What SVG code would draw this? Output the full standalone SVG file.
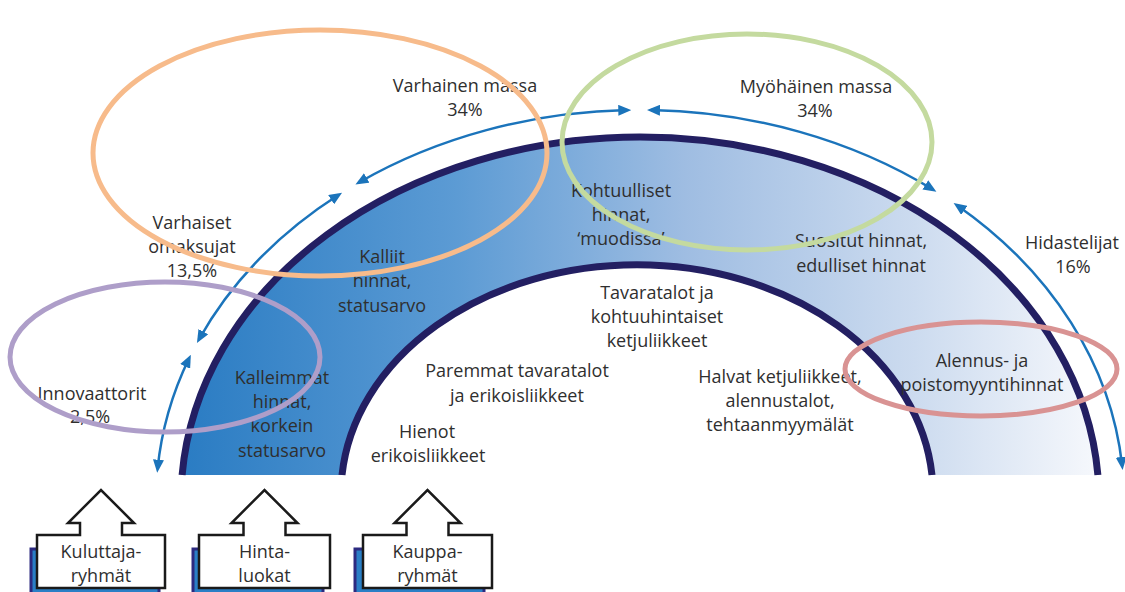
<svg xmlns="http://www.w3.org/2000/svg" width="1125" height="592" viewBox="0 0 1125 592">
  <defs>
    <linearGradient id="bandFill" x1="182" y1="0" x2="1098" y2="0" gradientUnits="userSpaceOnUse">
      <stop offset="0" stop-color="#2a7cc3"/>
      <stop offset="0.3" stop-color="#5c9bd4"/>
      <stop offset="0.55" stop-color="#9fbde2"/>
      <stop offset="0.8" stop-color="#ccdbef"/>
      <stop offset="1" stop-color="#f6f8fc"/>
    </linearGradient>
    <marker id="head" viewBox="0 0 13 11" refX="9" refY="5.5" markerWidth="13" markerHeight="11" markerUnits="userSpaceOnUse" orient="auto-start-reverse">
      <path d="M0,0 L13,5.5 L0,11 Z" fill="#1b74bb"/>
    </marker>
    <style>
      .lbl { font-family: "Open Sans", "Liberation Sans", sans-serif; font-size: 18px; fill: #2f2f2f; text-anchor: middle; }
      .edge { fill: none; stroke: #231f62; stroke-width: 7; }
      .seg { fill: none; stroke: #1b74bb; stroke-width: 2.5; marker-start: url(#head); marker-end: url(#head); }
      .box { fill: #ffffff; stroke: #1a1a1a; stroke-width: 2.5; stroke-linejoin: miter; }
      .shadow { fill: #2a7fc6; stroke: #2c2a80; stroke-width: 3; }
      .ring { fill: none; stroke-width: 5; }
    </style>
  </defs>

  <!-- half-ring band of price classes -->
  <g id="band">
    <path d="M182.1,475 A459,363 0 0 1 1097.9,475 L932,475 A296,229 0 0 0 342,475 Z" fill="url(#bandFill)"/>
    <path class="edge" d="M182.1,475 A459,363 0 0 1 1097.9,475"/>
    <path class="edge" d="M932,475 A296,229 0 0 0 342,475"/>
  </g>

  <!-- consumer-group spans along the outer arc -->
  <g id="connectors">
    <path class="seg" d="M157.6,468.7 A484,390 0 0 1 189.1,358.3"/>
    <path class="seg" d="M198.9,339.5 A484,390 0 0 1 338.7,194.8"/>
    <path class="seg" d="M358.9,182.5 A484,390 0 0 1 627.3,110.1"/>
    <path class="seg" d="M651.0,110.1 A484,390 0 0 1 933.0,189.6"/>
    <path class="seg" d="M956.9,205.2 A484,390 0 0 1 1122.2,466.0"/>
  </g>

  <!-- consumer groups -->
  <g id="innovaattorit">
    <text class="lbl" x="92" y="400">Innovaattorit</text>
    <text class="lbl" x="90" y="423">2,5%</text>
  </g>
  <g id="varhaiset-omaksujat">
    <text class="lbl" x="192" y="229">Varhaiset</text>
    <text class="lbl" x="192" y="253">omaksujat</text>
    <text class="lbl" x="192" y="277">13,5%</text>
  </g>
  <g id="varhainen-massa">
    <text class="lbl" x="465" y="92">Varhainen massa</text>
    <text class="lbl" x="465" y="116">34%</text>
  </g>
  <g id="myohainen-massa">
    <text class="lbl" x="816" y="93">Myöhäinen massa</text>
    <text class="lbl" x="815" y="117">34%</text>
  </g>
  <g id="hidastelijat">
    <text class="lbl" x="1072" y="249">Hidastelijat</text>
    <text class="lbl" x="1073" y="273">16%</text>
  </g>

  <!-- price classes -->
  <g id="kalleimmat">
    <text class="lbl" x="282" y="384">Kalleimmat</text>
    <text class="lbl" x="282" y="408">hinnat,</text>
    <text class="lbl" x="282" y="432">korkein</text>
    <text class="lbl" x="282" y="457">statusarvo</text>
  </g>
  <g id="kalliit">
    <text class="lbl" x="382" y="263">Kalliit</text>
    <text class="lbl" x="382" y="287">hinnat,</text>
    <text class="lbl" x="382" y="312">statusarvo</text>
  </g>
  <g id="kohtuulliset">
    <text class="lbl" x="621" y="197">Kohtuulliset</text>
    <text class="lbl" x="621" y="221">hinnat,</text>
    <text class="lbl" x="621" y="245">‘muodissa’</text>
  </g>
  <g id="suositut">
    <text class="lbl" x="861" y="247">Suositut hinnat,</text>
    <text class="lbl" x="861" y="272">edulliset hinnat</text>
  </g>
  <g id="alennus">
    <text class="lbl" x="982" y="367">Alennus- ja</text>
    <text class="lbl" x="982" y="391">poistomyyntihinnat</text>
  </g>

  <!-- store groups -->
  <g id="hienot">
    <text class="lbl" x="427" y="438">Hienot</text>
    <text class="lbl" x="428" y="462">erikoisliikkeet</text>
  </g>
  <g id="paremmat">
    <text class="lbl" x="517" y="377">Paremmat tavaratalot</text>
    <text class="lbl" x="517" y="402">ja erikoisliikkeet</text>
  </g>
  <g id="tavaratalot">
    <text class="lbl" x="657" y="299">Tavaratalot ja</text>
    <text class="lbl" x="657" y="323">kohtuuhintaiset</text>
    <text class="lbl" x="657" y="347">ketjuliikkeet</text>
  </g>
  <g id="halvat">
    <text class="lbl" x="780" y="383">Halvat ketjuliikkeet,</text>
    <text class="lbl" x="780" y="407">alennustalot,</text>
    <text class="lbl" x="780" y="431">tehtaanmyymälät</text>
  </g>

  <!-- legend boxes with up arrows -->
  <g id="kuluttajaryhmat">
    <rect class="shadow" x="31" y="549" width="128" height="60"/>
    <path class="box" d="M37,535 H80 V523 H68 L101,490 L134,523 H122 V535 H165 V588 H37 Z"/>
    <text class="lbl" x="101" y="558">Kuluttaja-</text>
    <text class="lbl" x="101" y="582">ryhmät</text>
  </g>
  <g id="hintaluokat">
    <rect class="shadow" x="193" y="549" width="130" height="60"/>
    <path class="box" d="M199,535 H243.5 V523 H231.5 L264.5,490 L297.5,523 H285.5 V535 H330 V588 H199 Z"/>
    <text class="lbl" x="264.5" y="558">Hinta-</text>
    <text class="lbl" x="264.5" y="582">luokat</text>
  </g>
  <g id="kauppart">
    <rect class="shadow" x="355" y="549" width="129" height="60"/>
    <path class="box" d="M363,535 H406.5 V523 H394.5 L427.5,490 L460.5,523 H448.5 V535 H492 V588 H363 Z"/>
    <text class="lbl" x="427.5" y="558">Kauppa-</text>
    <text class="lbl" x="427.5" y="582">ryhmät</text>
  </g>

  <!-- highlight rings -->
  <g id="rings">
    <ellipse class="ring" cx="320" cy="153" rx="227" ry="123" stroke="#f7bb8b"/>
    <ellipse class="ring" cx="747" cy="142" rx="185" ry="108" stroke="#c4da9f"/>
    <ellipse class="ring" cx="165" cy="357" rx="155" ry="75" stroke="#ae9ec9"/>
    <ellipse class="ring" cx="981" cy="369" rx="136" ry="47" stroke="#d99393"/>
  </g>
</svg>
